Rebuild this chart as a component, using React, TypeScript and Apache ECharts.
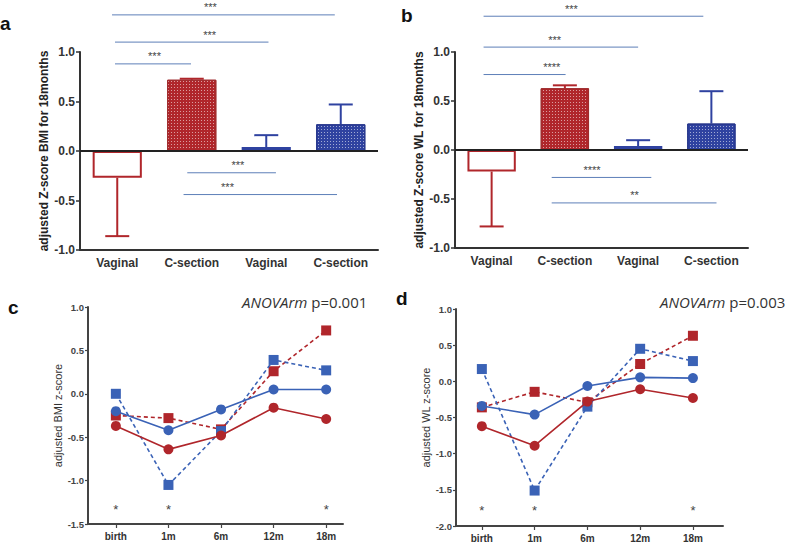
import React, { useEffect, useRef } from "react";
import * as echarts from "echarts";

// ---------- Data ----------
const barCategories = ["Vaginal", "C-section", "Vaginal", "C-section"];
const groupColors = ["red", "red", "blue", "blue"];
const groupFilled = [false, true, false, true];

// panel a: adjusted Z-score BMI for 18 months
const bmiMeans = [-0.27, 0.72, 0.04, 0.27];
const bmiErrEnds = [-0.86, 0.73, 0.16, 0.47];
// panel b: adjusted Z-score WL for 18 months
const wlMeans = [-0.22, 0.63, 0.04, 0.27];
const wlErrEnds = [-0.78, 0.66, 0.10, 0.60];

// significance brackets: from/to category position, level, label, label position
const sigA = [
  { from: -0.07, to: 2.92, y: 1.375, label: "***", at: 1.25 },
  { from: -0.03, to: 2.03, y: 1.10, label: "***", at: 1.24 },
  { from: -0.03, to: 0.99, y: 0.88, label: "***", at: 0.5 },
  { from: 0.94, to: 2.13, y: -0.22, label: "***", at: 1.62 },
  { from: 0.89, to: 2.95, y: -0.44, label: "***", at: 1.48 },
];
const sigB = [
  { from: -0.11, to: 2.89, y: 1.365, label: "***", at: 1.09 },
  { from: -0.11, to: 2.0, y: 1.05, label: "***", at: 0.86 },
  { from: -0.11, to: 1.01, y: 0.77, label: "****", at: 0.82 },
  { from: 0.82, to: 2.18, y: -0.28, label: "****", at: 1.37 },
  { from: 0.82, to: 3.07, y: -0.54, label: "**", at: 1.95 },
];

const timeLabels = ["birth", "1m", "6m", "12m", "18m"];
// panel c: adjusted BMI z-score
const bmiRedCircle = [-0.37, -0.64, -0.48, -0.16, -0.29];
const bmiBlueCircle = [-0.2, -0.42, -0.18, 0.05, 0.05];
const bmiRedSquare = [-0.25, -0.28, -0.41, 0.26, 0.73];
const bmiBlueSquare = [0.0, -1.05, -0.43, 0.39, 0.27];
const bmiStarAt = [0, 1, 4];
const bmiStarY = -1.33;
// panel d: adjusted WL z-score
const wlRedCircle = [-0.62, -0.89, -0.28, -0.11, -0.23];
const wlBlueCircle = [-0.34, -0.46, -0.065, 0.055, 0.045];
const wlRedSquare = [-0.36, -0.145, -0.29, 0.24, 0.63];
const wlBlueSquare = [0.17, -1.51, -0.35, 0.45, 0.28];
const wlStarAt = [0, 1, 4];
const wlStarY = -1.78;

// ---------- Styles ----------
const RED = "#b0262b";
const RED_DARK = "#9e2a2b";
const BLUE = "#2f42a0";
const BLUE_LINE = "#3a62b6";
const AXIS = "#333";
const SIG = "#5d7fb8";
const FONT = "Liberation Sans, Arial, sans-serif";

function colorOf(g: string) {
  return g === "red" ? RED : BLUE;
}

function barItems(values: number[]) {
  return values.map((v, i) => {
    const c = colorOf(groupColors[i]);
    const filled = groupFilled[i];
    return {
      value: v,
      itemStyle: filled
        ? {
            color: c,
            borderColor: groupColors[i] === "red" ? RED_DARK : "#27378c",
            borderWidth: 1,
            decal: {
              symbol: "rect",
              symbolSize: 1,
              color: "rgba(255,255,255,0.55)",
              dashArrayX: [1, 2],
              dashArrayY: [1, 2],
              rotation: 0,
            },
          }
        : { color: "#fff", borderColor: c, borderWidth: 2 },
    };
  });
}

function errorSeries(idx: number, means: number[], ends: number[]) {
  return {
    type: "custom",
    xAxisIndex: idx,
    yAxisIndex: idx,
    clip: false,
    z: 1,
    data: ends.map((e, i) => [i, e]),
    renderItem: (params: any, api: any) => {
      const i = params.dataIndex;
      const c = colorOf(groupColors[i]);
      const base = api.coord([i, means[i]]);
      const end = api.coord([i, ends[i]]);
      return {
        type: "group",
        children: [
          {
            type: "line",
            shape: { x1: base[0], y1: base[1], x2: end[0], y2: end[1] },
            style: { stroke: c, lineWidth: 2 },
          },
          {
            type: "line",
            shape: { x1: end[0] - 12, y1: end[1], x2: end[0] + 12, y2: end[1] },
            style: { stroke: c, lineWidth: 2 },
          },
        ],
      };
    },
  };
}

function sigSeries(idx: number, sig: any[]) {
  return {
    type: "custom",
    xAxisIndex: idx,
    yAxisIndex: idx,
    clip: false,
    z: 5,
    data: sig.map((s) => [0, s.y]),
    renderItem: (params: any, api: any) => {
      const s = sig[params.dataIndex];
      const p0 = api.coord([0, s.y]);
      const p1 = api.coord([1, s.y]);
      const band = p1[0] - p0[0];
      const xa = p0[0] + s.from * band;
      const xb = p0[0] + s.to * band;
      const xt = p0[0] + s.at * band;
      return {
        type: "group",
        children: [
          {
            type: "line",
            shape: { x1: xa, y1: p0[1], x2: xb, y2: p0[1] },
            style: { stroke: SIG, lineWidth: 1 },
          },
          {
            type: "text",
            x: xt,
            y: p0[1] - 2,
            style: {
              text: s.label,
              fill: "#444",
              font: `11px ${FONT}`,
              align: "center",
              verticalAlign: "bottom",
            },
          },
        ],
      };
    },
  };
}

function lineSeries(idx: number, vals: number[], color: string, dashed: boolean, symbol: string, z: number) {
  return {
    type: "line",
    xAxisIndex: idx,
    yAxisIndex: idx,
    data: vals.map((v, i) => [i, v]),
    symbol,
    symbolSize: 10,
    z,
    lineStyle: { color, width: 1.6, type: dashed ? [4, 3] : "solid" },
    itemStyle: { color },
    emphasis: { disabled: true },
  };
}

function starSeries(idx: number, at: number[], y: number) {
  return {
    type: "custom",
    xAxisIndex: idx,
    yAxisIndex: idx,
    clip: false,
    z: 6,
    data: at.map((x) => [x, y]),
    renderItem: (params: any, api: any) => {
      const p = api.coord([api.value(0), api.value(1)]);
      return {
        type: "text",
        x: p[0],
        y: p[1],
        style: { text: "*", fill: "#444", font: `13px ${FONT}`, align: "center", verticalAlign: "middle" },
      };
    },
  };
}

export default function App() {
  const ref = useRef<HTMLDivElement>(null);
  useEffect(() => {
    document.body.style.margin = "0";
    const chart = echarts.init(ref.current!, null, { renderer: "svg" });

    const barYAxis = (gridIndex: number, name: string) => ({
      type: "value",
      gridIndex,
      min: -1,
      max: 1,
      interval: 0.5,
      name,
      nameLocation: "middle",
      nameGap: 27,
      nameTextStyle: { fontFamily: FONT, fontWeight: "bold", fontSize: 12, color: "#222" },
      axisLine: { show: true, onZero: false, lineStyle: { color: AXIS, width: 2 } },
      axisTick: { show: true, length: 4, lineStyle: { color: AXIS, width: 1.5 } },
      axisLabel: {
        margin: 5,
        fontFamily: FONT,
        fontWeight: "bold",
        fontSize: 12,
        color: "#333",
        formatter: (v: number) => v.toFixed(1),
      },
      splitLine: { show: false },
    });
    const barXAxis = (gridIndex: number) => ({
      type: "category",
      gridIndex,
      data: barCategories,
      axisLine: { onZero: false, lineStyle: { color: AXIS, width: 2 } },
      axisTick: { alignWithLabel: true, length: 4, lineStyle: { color: AXIS, width: 1.5 } },
      axisLabel: { margin: 7, fontFamily: FONT, fontWeight: "bold", fontSize: 12, color: "#333" },
    });
    const lineYAxis = (gridIndex: number, name: string, min: number) => ({
      type: "value",
      gridIndex,
      min,
      max: 1,
      interval: 0.5,
      name,
      nameLocation: "middle",
      nameGap: 24,
      nameTextStyle: { fontFamily: FONT, fontSize: 11, color: "#333" },
      axisLine: { show: true, onZero: false, lineStyle: { color: "#444", width: 2 } },
      axisTick: { show: true, length: 3, lineStyle: { color: "#444", width: 1.2 } },
      axisLabel: {
        margin: 4,
        fontFamily: FONT,
        fontWeight: "bold",
        fontSize: 9.5,
        color: "#444",
        formatter: (v: number) => v.toFixed(1),
      },
      splitLine: { show: false },
    });
    const lineXAxis = (gridIndex: number, min: number, max: number) => ({
      type: "value",
      gridIndex,
      min,
      max,
      axisLine: { onZero: false, lineStyle: { color: "#444", width: 2 } },
      axisTick: { show: true, length: 4, customValues: [0, 1, 2, 3, 4], lineStyle: { color: "#444", width: 1.2 } },
      axisLabel: {
        margin: 7,
        customValues: [0, 1, 2, 3, 4],
        fontFamily: FONT,
        fontWeight: "bold",
        fontSize: 10,
        color: "#333",
        formatter: (v: number) => timeLabels[Math.round(v)] ?? "",
      },
      splitLine: { show: false },
    });

    const option: any = {
      animation: false,
      backgroundColor: "#fff",
      grid: [
        { left: 80, top: 52, width: 298, height: 198, outerBoundsMode: "none" },
        { left: 455, top: 52, width: 293, height: 196, outerBoundsMode: "none" },
        { left: 88, top: 307, width: 255, height: 217, outerBoundsMode: "none" },
        { left: 456, top: 309, width: 267, height: 217, outerBoundsMode: "none" },
      ],
      xAxis: [barXAxis(0), barXAxis(1), lineXAxis(2, -0.53, 4.32), lineXAxis(3, -0.49, 4.57)],
      yAxis: [
        barYAxis(0, "adjusted Z-score BMI for 18months"),
        barYAxis(1, "adjusted Z-score WL for 18months"),
        lineYAxis(2, "adjusted BMI z-score", -1.5),
        lineYAxis(3, "adjusted WL z-score", -2),
      ],
      series: [
        {
          type: "bar",
          xAxisIndex: 0,
          yAxisIndex: 0,
          barWidth: "66%",
          z: 2,
          data: barItems(bmiMeans),
          markLine: {
            silent: true,
            symbol: "none",
            label: { show: false },
            lineStyle: { color: "#222", width: 2, type: "solid" },
            data: [{ yAxis: 0 }],
          },
        },
        errorSeries(0, bmiMeans, bmiErrEnds),
        sigSeries(0, sigA),
        {
          type: "bar",
          xAxisIndex: 1,
          yAxisIndex: 1,
          barWidth: "66%",
          z: 2,
          data: barItems(wlMeans),
          markLine: {
            silent: true,
            symbol: "none",
            label: { show: false },
            lineStyle: { color: "#222", width: 2, type: "solid" },
            data: [{ yAxis: 0 }],
          },
        },
        errorSeries(1, wlMeans, wlErrEnds),
        sigSeries(1, sigB),

        lineSeries(2, bmiRedSquare, RED, true, "rect", 2),
        lineSeries(2, bmiBlueSquare, BLUE_LINE, true, "rect", 3),
        lineSeries(2, bmiBlueCircle, BLUE_LINE, false, "circle", 4),
        lineSeries(2, bmiRedCircle, RED, false, "circle", 5),
        starSeries(2, bmiStarAt, bmiStarY),

        lineSeries(3, wlRedSquare, RED, true, "rect", 2),
        lineSeries(3, wlBlueSquare, BLUE_LINE, true, "rect", 3),
        lineSeries(3, wlBlueCircle, BLUE_LINE, false, "circle", 4),
        lineSeries(3, wlRedCircle, RED, false, "circle", 5),
        starSeries(3, wlStarAt, wlStarY),
      ],
      graphic: [
        { type: "text", left: 0, top: 14, style: { text: "a", font: `bold 19px ${FONT}`, fill: "#111" } },
        { type: "text", left: 401, top: 6, style: { text: "b", font: `bold 19px ${FONT}`, fill: "#111" } },
        { type: "text", left: 8, top: 298, style: { text: "c", font: `bold 19px ${FONT}`, fill: "#111" } },
        { type: "text", left: 396, top: 289, style: { text: "d", font: `bold 19px ${FONT}`, fill: "#111" } },
        {
          type: "text",
          left: 242,
          top: 294,
          style: {
            text: "{i|ANOVArm} p=0.001",
            rich: { i: { fontStyle: "italic", fontSize: 15, fontFamily: "Open Sans", fill: "#333" } },
            font: `15px Open Sans`,
            fill: "#333",
          },
        },
        {
          type: "text",
          left: 660,
          top: 294,
          style: {
            text: "{i|ANOVArm} p=0.003",
            rich: { i: { fontStyle: "italic", fontSize: 15, fontFamily: "Open Sans", fill: "#333" } },
            font: `15px Open Sans`,
            fill: "#333",
          },
        },
      ],
    };
    chart.setOption(option);
    return () => chart.dispose();
  }, []);
  return <div ref={ref} style={{ position: "fixed", left: 0, top: 0, width: 800, height: 544 }} />;
}
